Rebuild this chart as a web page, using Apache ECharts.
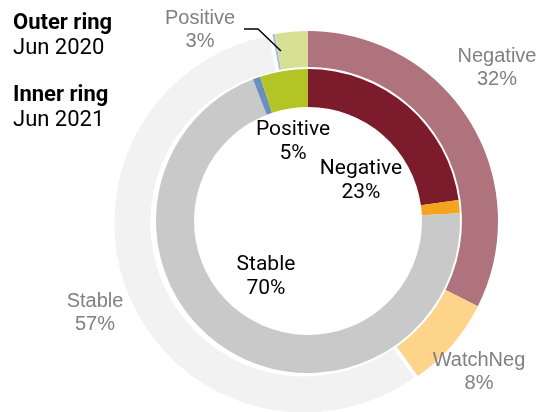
<!DOCTYPE html>
<html>
<head>
<meta charset="utf-8">
<script src="https://cdn.jsdelivr.net/npm/echarts@6/dist/echarts.min.js"></script>
<style>
  html, body { margin: 0; padding: 0; background: #fff; }
  #chart { width: 539px; height: 412px; }
</style>
</head>
<body>
<div id="chart"></div>
<script>
// clockwise from 12 o'clock
const categories = ['Negative', 'WatchNeg', 'Stable', 'WatchPos', 'Positive']
const outerValues = [32.4, 7.8, 56.8, 0.2, 2.8]   // Jun 2020
const innerValues = [22.8, 1.4, 69.9, 0.8, 5.1]   // Jun 2021
const labelled = ['Negative', 'WatchNeg', 'Stable', 'Positive']
const innerLabelled = ['Negative', 'Stable', 'Positive']

const outerColors = ['#AE737C', '#FED38A', '#F2F2F2', '#A7BEE0', '#D5E095']
const innerColors = ['#7B1B2B', '#F5A41D', '#C9C9C9', '#6C8EBF', '#B2C524']

// label anchor points (px), by series then name
const labelSpots = {
    outer: { Negative: [497, 68], WatchNeg: [479, 372], Stable: [95, 313], Positive: [200, 30] },
    inner: { Negative: [361, 181], Stable: [266, 277], Positive: [293, 142] }
}
// leader line for the small outer slice
const positiveLeader = [[281, 51], [258, 29], [244, 29]]

const chart = echarts.init(document.getElementById('chart'))

const outerData = categories.map((name, i) => ({
    name: name,
    value: outerValues[i],
    selected: name === 'Stable',
    itemStyle: { color: outerColors[i] }
}))

// same slices, transparent, drawn on top so the leader line is not covered
const outerLabelData = categories.map((name, i) => ({
    name: name,
    value: outerValues[i],
    label: { show: labelled.indexOf(name) >= 0 },
    labelLine: { show: name === 'Positive' }
}))

const innerData = categories.map((name, i) => ({
    name: name,
    value: innerValues[i],
    itemStyle: { color: innerColors[i] },
    label: { show: innerLabelled.indexOf(name) >= 0 }
}))

function placer (ring) {
    return function (params) {
        const name = categories[params.dataIndex]
        const spot = labelSpots[ring][name]
        if (!spot) return {}
        const out = { x: spot[0], y: spot[1], align: 'center', verticalAlign: 'middle' }
        if (ring === 'outer' && name === 'Positive') {
            out.labelLinePoints = positiveLeader
        }
        return out
    }
}

const titleText = { fontFamily: 'Roboto', fontSize: 22, fontWeight: 'bold', color: '#000', lineHeight: 24 }
const titleSub = { fontFamily: 'Roboto', fontSize: 22, color: '#000', lineHeight: 22 }

const option = {
    animation: false,
    title: [{
        text: 'Outer ring',
        subtext: 'Jun 2020',
        left: 13,
        top: 11,
        padding: 0,
        itemGap: 2,
        textStyle: titleText,
        subtextStyle: titleSub
    }, {
        text: 'Inner ring',
        subtext: 'Jun 2021',
        left: 13,
        top: 83,
        padding: 0,
        itemGap: 2,
        textStyle: titleText,
        subtextStyle: titleSub
    }],
    series: [{
        name: 'Jun 2020',
        type: 'pie',
        center: [308, 221],
        radius: [154, 190],
        startAngle: 90,
        clockwise: true,
        silent: true,
        selectedMode: 'single',
        selectedOffset: 4,
        label: { show: false },
        labelLine: { show: false },
        data: outerData
    }, {
        name: 'Jun 2020 labels',
        type: 'pie',
        z: 5,
        center: [308, 221],
        radius: [154, 190],
        startAngle: 90,
        clockwise: true,
        silent: true,
        percentPrecision: 0,
        avoidLabelOverlap: false,
        itemStyle: { color: 'rgba(0,0,0,0)' },
        label: {
            position: 'outside',
            formatter: '{b}\n{d}%',
            fontFamily: 'Liberation Sans',
            fontSize: 20,
            lineHeight: 23,
            color: '#808080'
        },
        labelLine: {
            length: 10,
            length2: 12,
            lineStyle: { color: '#000', width: 1.5 }
        },
        labelLayout: placer('outer'),
        data: outerLabelData
    }, {
        name: 'Jun 2021',
        type: 'pie',
        center: [308, 221],
        radius: [114, 152],
        startAngle: 90,
        clockwise: true,
        silent: true,
        percentPrecision: 0,
        avoidLabelOverlap: false,
        label: {
            position: 'inside',
            formatter: '{b}\n{d}%',
            fontFamily: 'Roboto',
            fontSize: 21,
            lineHeight: 24,
            color: '#000'
        },
        labelLine: { show: false },
        labelLayout: placer('inner'),
        data: innerData
    }]
}

chart.setOption(option)
</script>
</body>
</html>
